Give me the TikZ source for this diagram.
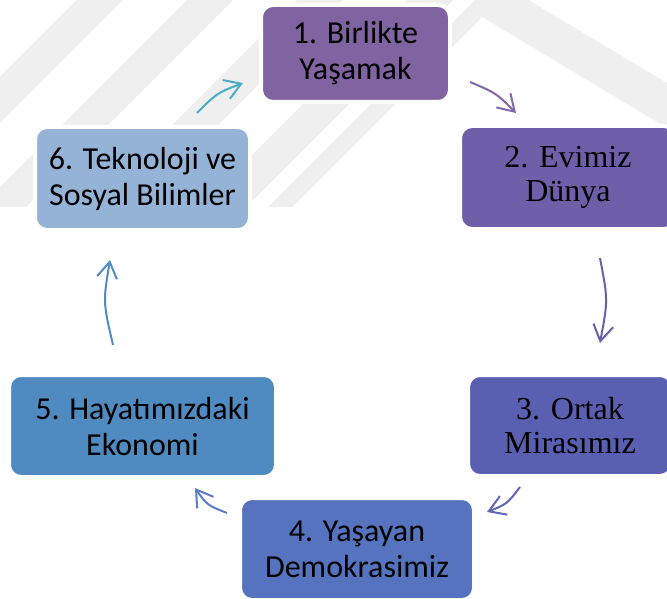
\documentclass[tikz,border=0pt]{standalone}
\usepackage{fontspec}
\usetikzlibrary{arrows.meta}
\newfontfamily\calfont{Carlito}
\newfontfamily\timfont{Liberation Serif}
\definecolor{wm}{HTML}{EFEFEF}
\definecolor{cA}{HTML}{8064A2}
\definecolor{cB}{HTML}{6E5FA8}
\definecolor{cC}{HTML}{5A5FB1}
\definecolor{cD}{HTML}{5573BE}
\definecolor{cE}{HTML}{4F8BC1}
\definecolor{cF}{HTML}{95B3D7}
\definecolor{aA}{HTML}{8368A8}
\definecolor{aB}{HTML}{6A5FAB}
\definecolor{aC}{HTML}{5F66B5}
\definecolor{aD}{HTML}{5A7CC3}
\definecolor{aE}{HTML}{4F8CC4}
\definecolor{aF}{HTML}{4AACC6}
\tikzset{
  box/.style={rounded corners=9pt, draw=white, line width=3pt, align=center, inner sep=0pt, text=black},
  calib/.style={font=\calfont\fontsize{24}{27}\selectfont},
  tims/.style={font=\timfont\fontsize{24}{25}\selectfont},
  arr/.style={line width=1.5pt, -{Straight Barb[length=12pt,width=15pt,line width=1.5pt]}}
}
\begin{document}
\begin{tikzpicture}[x=0.75pt,y=-0.75pt]
\useasboundingbox (0,0) rectangle (667,599);
\begin{scope}
\clip (0,0) rectangle (667,599);
% faint watermark
\fill[wm] (77,0) -- (123,0) -- (-84,207) -- (-130,207) -- cycle;
\fill[wm] (187,0) -- (233,0) -- (26,207) -- (-20,207) -- cycle;
\fill[wm] (297,0) -- (343,0) -- (136,207) -- (90,207) -- cycle;
\fill[wm] (407,0) -- (453,0) -- (246,207) -- (200,207) -- cycle;
\fill[wm] (268,207) -- (495,-20) -- (667,83) -- (667,128) -- (482,17) -- (292,207) -- cycle;
\end{scope}
% boxes
\node[box, calib, fill=cA, minimum width=141.75pt, minimum height=72.75pt] (n1) at (355.5,53.5) {1. Birlikte\\Yaşamak};
\node[box, tims,  fill=cB, minimum width=162pt, minimum height=77.25pt] (n2) at (568,177.5) {2. Evimiz\\Dünya};
\node[box, tims,  fill=cC, minimum width=153pt, minimum height=75.75pt] (n3) at (570,425.5) {3. Ortak\\Mirasımız};
\node[box, calib, fill=cD, minimum width=175.5pt, minimum height=76.5pt] (n4) at (357,549) {4. Yaşayan\\Demokrasimiz};
\node[box, calib, fill=cE, minimum width=200.25pt, minimum height=76.5pt] (n5) at (142.5,426) {5. Hayatımızdaki\\Ekonomi};
\node[box, calib, fill=cF, minimum width=161.25pt, minimum height=77.25pt] (n6) at (142.5,178.5) {6. Teknoloji ve\\Sosyal Bilimler};
% arrow end points
\coordinate (s12) at (470,82);  \coordinate (e12) at (516,113);
\coordinate (s23) at (600,258); \coordinate (e23) at (600,343);
\coordinate (s34) at (520,487); \coordinate (e34) at (487,512);
\coordinate (s45) at (227,513); \coordinate (e45) at (195,488);
\coordinate (s56) at (113,345); \coordinate (e56) at (110,260);
\coordinate (s61) at (197,113); \coordinate (e61) at (243,83);
\draw[arr, aA] (s12) .. controls (496,93) .. (e12);
\draw[arr, aB] (s23) .. controls (608,300) .. (e23);
\draw[arr, aC] (s34) .. controls (507,504) .. (e34);
\draw[arr, aD] (s45) .. controls (207,505) .. (e45);
\draw[arr, aE] (s56) .. controls (103,302) .. (e56);
\draw[arr, aF] (s61) .. controls (217,93) .. (e61);
\end{tikzpicture}
\end{document}
